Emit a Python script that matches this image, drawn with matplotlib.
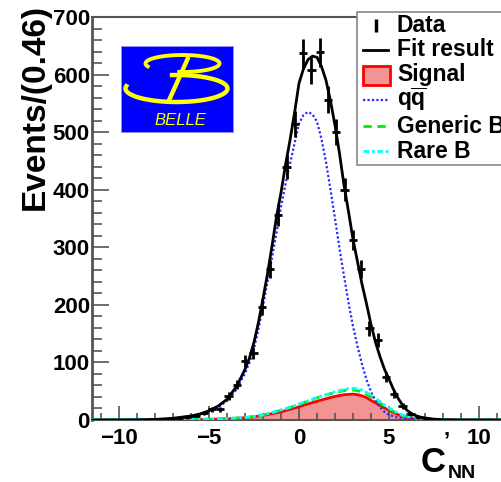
import numpy as np
import matplotlib
matplotlib.use('Agg')
import matplotlib.pyplot as plt
from matplotlib.patches import Rectangle

plt.rcParams['font.family'] = ['Liberation Sans', 'DejaVu Sans']
plt.rcParams['font.weight'] = 'bold'
plt.rcParams['mathtext.fontset'] = 'custom'
plt.rcParams['mathtext.rm'] = 'Liberation Sans:bold'
plt.rcParams['mathtext.it'] = 'Liberation Sans:bold'
plt.rcParams['mathtext.bf'] = 'Liberation Sans:bold'

# binned data (bin width 0.46)
bin_x = [-8.05, -7.59, -7.13, -6.67, -6.21, -5.75, -5.29, -4.83, -4.37, -3.91,
         -3.45, -2.99, -2.53, -2.07, -1.61, -1.15, -0.69, -0.23, 0.23, 0.69,
         1.15, 1.61, 2.07, 2.53, 2.99, 3.45, 3.91, 4.37, 4.83, 5.29,
         5.75, 6.21, 6.67, 7.13, 7.59]
counts = [1, 1, 2, 3, 5, 7, 12, 19, 19, 42,
          61, 102, 116, 196, 262, 356, 439, 514, 637, 608,
          639, 556, 500, 400, 313, 262, 159, 139, 74, 45,
          24, 10, 5, 2, 1]

# fit result (total)
fit_x = [-11.5, -9.5, -8.5, -8, -7.5, -7, -6.5, -6, -5.5, -5, -4.5, -4, -3.5, -3.25,
         -3, -2.75, -2.5, -2.25, -2, -1.75, -1.5, -1.25, -1, -0.75, -0.5, -0.25,
         0, 0.25, 0.5, 0.75, 1.0, 1.25, 1.5, 1.75, 2.0, 2.25, 2.5, 2.75, 3.0, 3.25,
         3.5, 3.75, 4.0, 4.25, 4.5, 4.75, 5.0, 5.25, 5.5, 5.75, 6.0, 6.25, 6.5, 6.75,
         7.0, 7.5, 8.0, 9.0, 11.5]
fit_y = [0, 0.2, 0.6, 1, 2, 3, 5, 7, 10.5, 16, 24, 36, 57, 72,
         88, 108, 135, 170, 211, 254, 302, 353, 395, 443, 486, 533,
         585, 610, 626, 632, 630, 614, 590, 554, 512, 463, 408, 362, 314, 275,
         236, 202, 166, 135, 110, 88, 71, 53, 38, 26, 17, 11, 7.5, 5,
         3.5, 1.5, 0.5, 0.1, 0]

# q-qbar component
qq_x = [-11.5, -9, -8, -7, -6.5, -6, -5.5, -5, -4.5, -4, -3.5, -3, -2.75, -2.5,
        -2.25, -2, -1.75, -1.5, -1.25, -1, -0.75, -0.5, -0.25, 0, 0.25, 0.5,
        0.75, 1.0, 1.25, 1.5, 1.75, 2.0, 2.25, 2.5, 2.75, 3.0, 3.25, 3.5, 3.75,
        4.0, 4.25, 4.5, 4.75, 5.0, 5.5, 6.0, 7.0, 11.5]
qq_y = [0, 0.2, 0.8, 2.5, 4, 6, 9, 14, 22, 33, 52, 81, 100, 124,
        158, 198, 240, 282, 325, 370, 410, 445, 480, 515, 530, 535,
        531, 518, 488, 448, 400, 350, 298, 250, 204, 163, 128, 97, 70,
        49, 33, 22, 14, 9, 4, 1.5, 0.3, 0]

# signal component
sig_x = [-11.5, -6, -5, -4, -3, -2.5, -2, -1.5, -1, -0.5, 0, 0.5, 1.0, 1.5, 2.0,
         2.5, 3.0, 3.25, 3.5, 3.75, 4.0, 4.25, 4.5, 4.75, 5.0, 5.25, 5.5, 5.75,
         6.0, 6.5, 7.0, 8.0, 11.5]
sig_y = [0, 0.3, 1, 2, 4, 5.5, 8, 11, 14, 18.5, 23, 28, 32.5, 37, 41,
         44, 45, 44, 42, 39, 34, 30, 25, 21, 17, 13, 9.5, 6.5,
         4, 2, 0.8, 0.2, 0]

# generic B
gen_x = [-11.5, -8, -6, -5, -4, -3, -2.5, -2, -1.5, -1, -0.5, 0, 0.5, 1.0, 1.5,
         2.0, 2.5, 2.75, 3.0, 3.25, 3.5, 3.75, 4.0, 4.25, 4.5, 4.75, 5.0, 5.25,
         5.5, 5.75, 6.0, 6.5, 7.0, 8.0, 11.5]
gen_y = [0.5, 0.8, 1, 1.5, 2.5, 4, 6, 8.5, 12.5, 17, 21.5, 27, 33, 38.5, 43.5,
         47.5, 51, 52, 52, 51, 48.5, 45, 40, 35, 29.5, 24, 19.5, 15,
         11, 8, 5.5, 2.5, 1.2, 0.6, 0.4]

# rare B
rare_x = [-11.5, -8, -6, -5, -4, -3, -2.5, -2, -1.5, -1, -0.5, 0, 0.5, 1.0, 1.5,
          2.0, 2.5, 2.75, 3.0, 3.25, 3.5, 3.75, 4.0, 4.25, 4.5, 4.75, 5.0, 5.25,
          5.5, 5.75, 6.0, 6.5, 7.0, 8.0, 11.5]
rare_y = [0.6, 0.9, 1.1, 1.6, 2.6, 4.2, 6.2, 8.8, 13, 17.5, 22, 27.5, 33.5, 39, 44,
          49, 53, 54.5, 55, 54, 52, 48, 43, 37.5, 32, 26, 21, 16.5,
          12, 8.5, 6, 3, 1.4, 0.6, 0.4]

W, H = 501, 482
fig = plt.figure(figsize=(W / 100, H / 100), dpi=100)
ax = fig.add_axes([92 / W, 1 - 420 / H, 414 / W, 403 / H])
ax.set_xlim(-11.5, 11.5)
ax.set_ylim(0, 700)

ax.fill_between(sig_x, 0, sig_y, facecolor='#f39494', edgecolor='none', zorder=1)
ax.plot(sig_x, sig_y, color='red', lw=2, zorder=3)
ax.plot(gen_x, gen_y, color='#00ee00', lw=2, ls=(0, (3, 2)), zorder=3)
ax.plot(rare_x, rare_y, color='#00ffff', lw=2, ls=(0, (2, 1, 1, 1)), zorder=3)
ax.plot(qq_x, qq_y, color='#2a2aff', lw=1.6, ls=(0, (1, 1)), zorder=3)
ax.plot(fit_x, fit_y, color='black', lw=2, zorder=4)
ax.errorbar(bin_x, counts, yerr=np.sqrt(counts), xerr=0.23, fmt='none',
            ecolor='black', elinewidth=2, capsize=0, zorder=5)

for s in ['left', 'bottom', 'top', 'right']:
    ax.spines[s].set_color('#555555')
ax.spines['left'].set_linewidth(2)
ax.spines['top'].set_linewidth(1.5)
ax.spines['bottom'].set_linewidth(1.5)

ax.set_xticks([-10, -5, 0, 5, 10])
ax.set_xticks(np.arange(-11, 12, 1), minor=True)
ax.set_yticks(np.arange(0, 701, 100))
ax.set_yticks(np.arange(0, 701, 20), minor=True)
ax.tick_params(which='both', direction='in', top=False, right=False, color='#555555',
               labelsize=16, labelcolor='black')
ax.tick_params(axis='y', which='major', length=12, width=1.2, pad=1.5)
ax.tick_params(axis='y', which='minor', length=7, width=1.2)
ax.tick_params(axis='x', which='major', length=10, width=1.2, pad=6)
ax.tick_params(axis='x', which='minor', length=5, width=1.2)

fig.text(35 / W, 1 - 4 / H, 'Events/(0.46)', rotation=90, ha='center', va='top',
         fontsize=24, weight='bold')
fig.text(421 / W, 1 - 472 / H, 'C', fontsize=25, weight='bold', va='baseline')
fig.text(448 / W, 1 - 478 / H, 'NN', fontsize=14, weight='bold', va='baseline')
fig.text(447 / W, 1 - 434 / H, ',', fontsize=16, weight='bold', ha='center', va='baseline')

# overlay in pixel coords: legend and logo
ov = fig.add_axes([0, 0, 1, 1], zorder=10)
ov.set_xlim(0, W)
ov.set_ylim(H, 0)
ov.axis('off')
ov.patch.set_visible(False)

ov.add_patch(Rectangle((357, 12), 160, 153, facecolor='white', edgecolor='#888888', lw=1.2))
ov.plot([376, 376], [19, 32], color='black', lw=2.5, solid_capstyle='butt')
ov.plot([363, 388], [50, 50], color='black', lw=2)
ov.add_patch(Rectangle((363, 66), 27, 19, facecolor='#f39494', edgecolor='red', lw=2))
ov.plot([363, 388], [100, 100], color='#2a2aff', lw=1.6, ls=(0, (1, 1)))
ov.plot([363, 388], [126, 126], color='#00ee00', lw=2, ls=(0, (3, 2)))
ov.plot([363, 388], [151, 151], color='#00ffff', lw=2, ls=(0, (2, 1, 1, 1)))
labels = ['Data', 'Fit result', 'Signal', r'$q\overline{q}$', 'Generic B', 'Rare B']
bases = [31.5, 55.5, 80.5, 106, 133, 157.5]
for lab, b in zip(labels, bases):
    ov.text(397, b, lab, fontsize=16.5, weight='bold', va='baseline', ha='left')

# Belle logo
ov.add_patch(Rectangle((121, 46), 112, 86, facecolor='#0000ff', edgecolor='#9090ff', lw=0.6))
t = np.radians(np.linspace(-95, 200, 80))
ov.plot(182.5 + 37 * np.cos(t), 63.5 - 8.5 * np.sin(t), color='#ffff00', lw=2.8)
t = np.radians(np.linspace(170, 455, 100))
ov.plot(176.5 + 51 * np.cos(t), 88.5 - 13.5 * np.sin(t), color='#ffff00', lw=3.2)
ov.plot([188.5, 168.5], [57, 101.5], color='#ffff00', lw=3.2, solid_capstyle='butt')
ov.text(180, 125, 'BELLE', color='#ffff00', fontsize=12, style='italic',
        weight='normal', ha='center', va='baseline')

fig.savefig('out.png', dpi=100)
